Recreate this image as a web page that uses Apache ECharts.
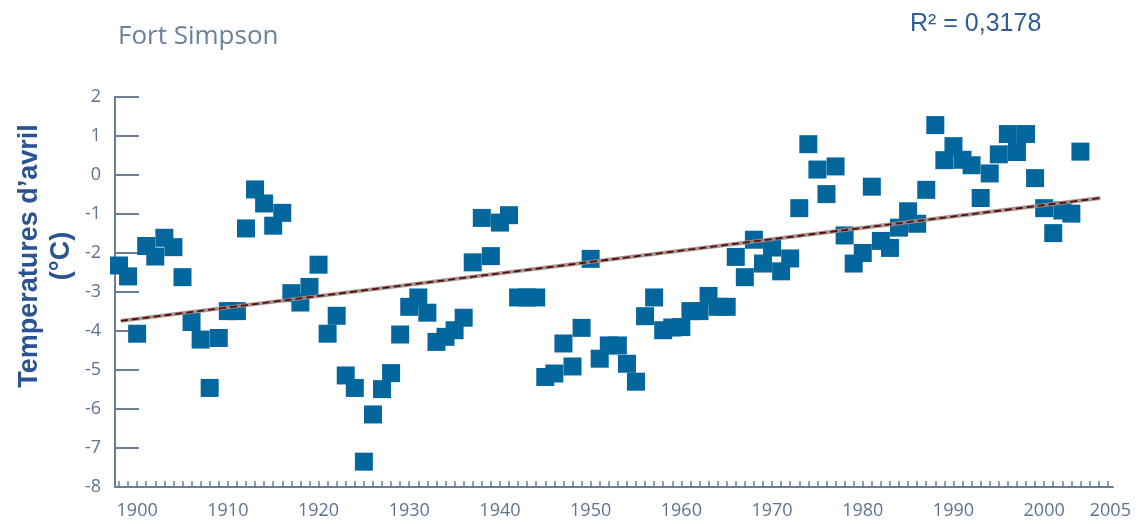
<!DOCTYPE html>
<html>
<head>
<meta charset="utf-8">
<script src="https://cdn.jsdelivr.net/npm/echarts@6/dist/echarts.min.js"></script>
<style>
html,body{margin:0;padding:0;background:#fff;}
#chart{width:1144px;height:524px;}
</style>
</head>
<body>
<div id="chart"></div>
<script>
// ---- Data ----
const years = [
  1898,1899,1900,1901,1902,1903,1904,1905,1906,1907,1908,1909,
  1910,1911,1912,1913,1914,1915,1916,1917,1918,1919,
  1920,1921,1922,1923,1924,1925,1926,1927,1928,1929,
  1930,1931,1932,1933,1934,1935,1936,1937,1938,1939,
  1940,1941,1942,1943,1944,1945,1946,1947,1948,1949,
  1950,1951,1952,1953,1954,1955,1956,1957,1958,1959,
  1960,1961,1962,1963,1964,1965,1966,1967,1968,1969,
  1970,1971,1972,1973,1974,1975,1976,1977,1978,1979,
  1980,1981,1982,1983,1984,1985,1986,1987,1988,1989,
  1990,1991,1992,1993,1994,1995,1996,1997,1998,1999,
  2000,2001,2002,2003,2004
];
const aprilTemps = [
  -2.32,-2.60,-4.07,-1.82,-2.09,-1.61,-1.85,-2.62,-3.77,-4.22,-5.46,-4.18,
  -3.49,-3.49,-1.37,-0.37,-0.73,-1.30,-0.97,-3.03,-3.27,-2.87,
  -2.30,-4.07,-3.61,-5.14,-5.46,-7.35,-6.14,-5.49,-5.08,-4.09,
  -3.38,-3.14,-3.53,-4.28,-4.15,-3.98,-3.66,-2.24,-1.10,-2.08,
  -1.22,-1.03,-3.14,-3.14,-3.14,-5.18,-5.09,-4.32,-4.91,-3.92,
  -2.15,-4.71,-4.37,-4.37,-4.84,-5.30,-3.62,-3.14,-3.98,-3.91,
  -3.90,-3.49,-3.49,-3.10,-3.38,-3.38,-2.10,-2.62,-1.66,-2.27,
  -1.86,-2.47,-2.14,-0.85,0.79,0.14,-0.49,0.22,-1.55,-2.27,
  -2.00,-0.30,-1.69,-1.87,-1.35,-0.93,-1.25,-0.38,1.28,0.38,
  0.74,0.39,0.25,-0.59,0.04,0.53,1.05,0.59,1.05,-0.08,
  -0.85,-1.49,-0.91,-0.99,0.60
];
// Trend line end points
const trendYears = [1898.2, 2006.2];
const trendValues = [-3.74, -0.59];
// Axis labels
const xTickLabels = ['1900','1910','1920','1930','1940','1950','1960','1970','1980','1990','2000','2005'];
const yTickLabels = ['-8','-7','-6','-5','-4','-3','-2','-1','0','1','2'];
const chartTitle = 'Fort Simpson';
const r2Text = 'R\u00B2 = 0,3178';
const yTitle = 'Temperatures d\u2019avril\n(\u00B0C)';

// ---- Build chart ----
const X_MIN = 1897.56, X_MAX = 2007.59;
const xLabelValues = [1900,1910,1920,1930,1940,1950,1960,1970,1980,1990,2000, 2007.3];
const yearTicks = [];
for (let y = 1898; y <= 2007; y++) yearTicks.push(y);

const scatterData = years.map((y, i) => [y, aprilTemps[i]]);
const trendData = trendYears.map((y, i) => [y, trendValues[i]]);

const axisColor = '#6a7e98';
const labelColor = '#5e7391';

const chart = echarts.init(document.getElementById('chart'), null, {renderer: 'canvas'});
chart.setOption({
  animation: false,
  backgroundColor: '#ffffff',
  title: [
    {
      text: chartTitle, left: 118, top: 24, padding: 0,
      textStyle: {fontFamily: '"Open Sans", sans-serif', fontSize: 26, fontWeight: 'normal', color: '#6b809b'}
    },
    {
      text: r2Text, left: 910, top: 12, padding: 0,
      textStyle: {fontFamily: '"Liberation Sans", Arial, sans-serif', fontSize: 25, fontWeight: 'normal', color: '#2f5e96'}
    }
  ],
  grid: {left: 115, right: 31, top: 97, bottom: 37, containLabel: false},
  xAxis: {
    type: 'value', min: X_MIN, max: X_MAX,
    splitLine: {show: false},
    axisLine: {show: true, onZero: false, lineStyle: {color: axisColor, width: 2}},
    axisTick: {show: true, inside: true, length: 6, customValues: yearTicks, lineStyle: {color: axisColor, width: 1.5}},
    axisLabel: {
      customValues: xLabelValues,
      margin: 15,
      color: labelColor, fontFamily: '"Open Sans", sans-serif', fontSize: 18,
      formatter: function (v) {
        const idx = xLabelValues.findIndex(function (x) { return Math.abs(x - v) < 1e-6; });
        return idx >= 0 ? xTickLabels[idx] : '';
      }
    }
  },
  yAxis: {
    type: 'value', min: -8, max: 2, interval: 1,
    splitLine: {show: false},
    axisLine: {show: true, onZero: false, lineStyle: {color: axisColor, width: 2}},
    axisTick: {show: true, inside: true, length: 24, lineStyle: {color: axisColor, width: 2}},
    axisLabel: {
      margin: 14, padding: [0, 0, 12, 0],
      color: labelColor, fontFamily: '"Open Sans", sans-serif', fontSize: 18,
      formatter: function (v) {
        const idx = Math.round(v) + 8;
        return yTickLabels[idx] !== undefined ? yTickLabels[idx] : '';
      }
    }
  },
  graphic: [
    {
      type: 'text', x: 46, y: 256, rotation: Math.PI / 2,
      style: {
        text: yTitle,
        fill: '#2b5390',
        font: 'bold 27px "Liberation Sans", Arial, sans-serif',
        align: 'center', verticalAlign: 'middle',
        textAlign: 'center', textVerticalAlign: 'middle',
        lineHeight: 32
      }
    }
  ],
  series: [
    {
      type: 'scatter', data: scatterData,
      symbol: 'rect', symbolSize: 18,
      itemStyle: {color: '#03679d', opacity: 1},
      z: 2, silent: true
    },
    {
      type: 'line', data: trendData, showSymbol: false, symbol: 'none',
      lineStyle: {color: '#9a8c88', width: 4, opacity: 0.9},
      z: 3, silent: true
    },
    {
      type: 'line', data: trendData, showSymbol: false, symbol: 'none',
      lineStyle: {color: '#5a0c05', width: 1.8, type: [7, 4]},
      z: 4, silent: true
    }
  ]
});
</script>
</body>
</html>
